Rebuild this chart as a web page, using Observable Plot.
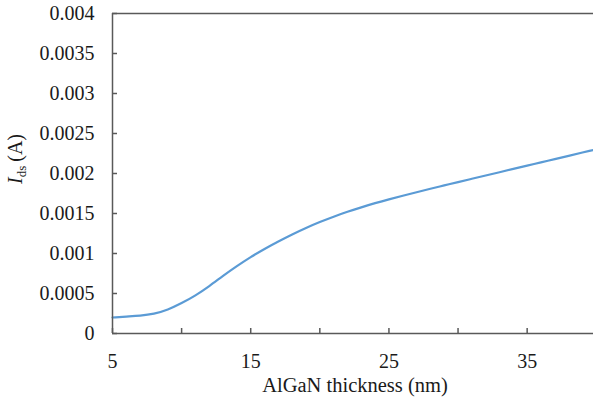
<!DOCTYPE html>
<html>
<head>
<meta charset="utf-8">
<script src="https://cdn.jsdelivr.net/npm/d3@7"></script>
<script src="https://cdn.jsdelivr.net/npm/@observablehq/plot@0.6"></script>
<style>
  html, body { margin: 0; padding: 0; background: #fff; }
  #chart svg { display: block; }
  #chart svg text { font-family: 'Liberation Serif', 'Times New Roman', serif; }
</style>
</head>
<body>
<div id="chart"></div>
<script>
// AlGaN thickness (nm)
const thickness = [5, 6, 7, 8, 9, 10, 11, 12, 13, 14, 15, 16, 17, 18, 19, 20, 21, 22, 23, 24, 25, 26, 27, 28, 29, 30, 31, 32, 33, 34, 35, 36, 37, 38, 39, 40];
// Ids (A)
const ids = [0.0002, 0.000212, 0.000224, 0.000248, 0.0003, 0.00038, 0.000477, 0.000592, 0.00072, 0.000842, 0.000955, 0.001057, 0.00115, 0.001238, 0.001319, 0.001393, 0.00146, 0.001521, 0.001577, 0.001629, 0.001677, 0.001722, 0.001766, 0.001809, 0.001851, 0.001893, 0.001934, 0.001975, 0.002016, 0.002057, 0.002098, 0.002139, 0.00218, 0.002221, 0.002262, 0.002303];

const xLabelTicks = [5, 15, 25, 35];
const xMinorTicks = [10, 20, 30];
const yTicks = [0, 0.0005, 0.001, 0.0015, 0.002, 0.0025, 0.003, 0.0035, 0.004];
const yTickLabels = ["0", "0.0005", "0.001", "0.0015", "0.002", "0.0025", "0.003", "0.0035", "0.004"];

const data = thickness.map((t, i) => ({t, v: ids[i]}));
const axisColor = "#595959";
const textColor = "#1a1a1a";
const serif = "'Liberation Serif', 'Times New Roman', serif";

const chart = Plot.plot({
  width: 593,
  height: 399,
  marginLeft: 112,
  marginRight: 0,
  marginTop: 13,
  marginBottom: 66,
  style: {fontFamily: serif, fontSize: "20px", background: "#fff", color: textColor},
  x: {domain: [5, 39.8]},
  y: {domain: [0, 0.004]},
  marks: [
    Plot.ruleY([0.004], {stroke: axisColor, strokeWidth: 1.5}),
    Plot.line(data, {x: "t", y: "v", stroke: "#5b9bd5", strokeWidth: 2.2, curve: "natural"}),
    Plot.axisY({ticks: yTicks, tickSize: -5, tickFormat: () => "", stroke: axisColor, strokeWidth: 1.5, label: null}),
    Plot.axisY({ticks: yTicks, tickSize: 0, tickPadding: 18, tickFormat: (d) => yTickLabels[yTicks.indexOf(d)], fontSize: 20, fontFamily: serif, fill: textColor, label: null}),
    Plot.axisX({ticks: xMinorTicks.concat(xLabelTicks), tickSize: -5, tickFormat: () => "", stroke: axisColor, strokeWidth: 1.5, label: null}),
    Plot.axisX({ticks: xLabelTicks, tickSize: 0, tickPadding: 20, fontSize: 20, fontFamily: serif, fill: textColor, label: null}),
    Plot.ruleX([5], {stroke: axisColor, strokeWidth: 1.5}),
    Plot.ruleY([0], {stroke: axisColor, strokeWidth: 1.5})
  ]
});

document.getElementById("chart").appendChild(chart);

const svg = d3.select(chart);
svg.append("text")
  .attr("x", 355)
  .attr("y", 392)
  .attr("text-anchor", "middle")
  .attr("fill", textColor)
  .style("font-size", "20.5px")
  .text("AlGaN thickness (nm)");

const yl = svg.append("text")
  .attr("transform", "translate(22,159) rotate(-90)")
  .attr("text-anchor", "middle")
  .attr("fill", textColor)
  .style("font-size", "20px");
yl.append("tspan").style("font-style", "italic").text("I");
yl.append("tspan").attr("dy", 4).style("font-size", "13px").text("ds");
yl.append("tspan").attr("dy", -4).text("\u2009(A)");

svg.selectAll("text").attr("font-family", serif).style("font-family", serif);
</script>
</body>
</html>
